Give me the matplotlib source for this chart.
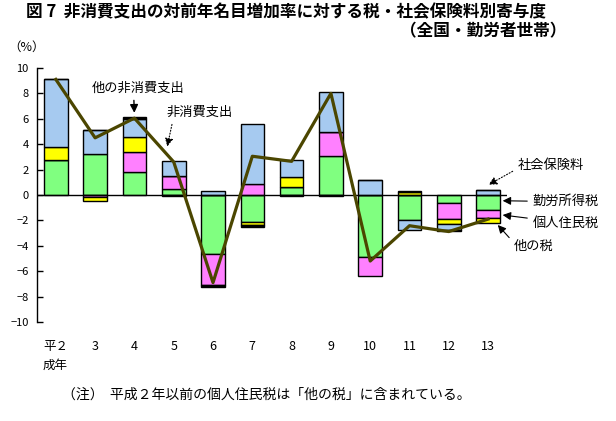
import numpy as np
import matplotlib
matplotlib.use("Agg")
import matplotlib.pyplot as plt

plt.rcParams['font.family'] = ['Noto Sans CJK JP', 'DejaVu Sans']

# --- data ---
years = ['平２', '3', '4', '5', '6', '7', '8', '9', '10', '11', '12', '13']

kinro = [2.76, 3.23, 1.81, 0.45, -4.65, -2.15, 0.65, 3.10, -4.86, -1.97, -0.65, -1.18]      # 勤労所得税
jumin = [0.0, -0.12, 1.58, 1.07, -2.46, 0.84, 0.0, 1.88, -1.49, 0.0, -1.26, -0.66]          # 個人住民税
other_tax = [0.99, -0.35, 1.18, 0.0, 0.0, -0.22, 0.74, 0.0, 0.0, 0.25, -0.39, -0.39]        # 他の税
shakai = [5.36, 1.89, 1.43, 1.16, 0.30, 4.73, 1.37, 3.10, 1.18, -0.80, -0.45, 0.37]        # 社会保険料
other_nc = [0.0, 0.0, 0.12, -0.10, -0.15, -0.12, -0.08, -0.08, 0.0, 0.10, -0.10, 0.0]       # 他の非消費支出
total = [9.1, 4.5, 6.05, 2.6, -6.9, 3.05, 2.65, 8.0, -5.2, -2.42, -2.88, -1.9]              # 非消費支出

components = [
    (kinro, '#80FF80'),
    (jumin, '#FF80FF'),
    (other_tax, '#FFFF00'),
    (shakai, '#A6CAF0'),
    (other_nc, '#000000'),
]

fig = plt.figure(figsize=(6.16, 4.21), dpi=100)
ax = fig.add_axes([0.060, 0.2352, 0.763, 0.6033])

x = np.arange(len(years))
pos_base = np.zeros(len(years))
neg_base = np.zeros(len(years))
for vals, col in components:
    v = np.array(vals)
    bottom = np.where(v >= 0, pos_base, neg_base)
    ax.bar(x, v, width=0.6, bottom=bottom, color=col, edgecolor='black', linewidth=1.0, zorder=2)
    pos_base = pos_base + np.where(v > 0, v, 0)
    neg_base = neg_base + np.where(v < 0, v, 0)

ax.plot(x, total, color='#4B4600', lw=2.3, zorder=4)
ax.axhline(0, color='black', lw=1.0, zorder=3)

ax.set_xlim(-0.48, 11.48)
ax.set_ylim(-10, 10)
ax.set_yticks(np.arange(-10, 11, 2))
ax.tick_params(axis='y', direction='in', length=4, width=1, labelsize=8, pad=6)
ax.set_xticks([])
for s in ['top', 'right', 'bottom']:
    ax.spines[s].set_visible(False)
ax.spines['left'].set_linewidth(1.0)

# x labels
for i, lab in enumerate(years):
    ax.text(i, -11.9, lab, ha='center', va='center', fontsize=9)
ax.text(-0.34, -13.4, '成年', ha='left', va='center', fontsize=9)

# annotations
ann = dict(fontsize=9.5)
ax.annotate('他の非消費支出', xy=(2.0, 6.25), xytext=(2.1, 8.4), ha='center', va='center',
            arrowprops=dict(arrowstyle='-|>', color='black', lw=1, mutation_scale=12,
                            relpos=(0.45, 0.0)), **ann)
ax.annotate('非消費支出', xy=(2.82, 3.6), xytext=(3.66, 6.5), ha='center', va='center',
            arrowprops=dict(arrowstyle='-|>', color='black', lw=0.8, ls=':', mutation_scale=12,
                            relpos=(0.1, 0.0), shrinkA=2), **ann)
ax.annotate('社会保険料', xy=(10.95, 0.7), xytext=(12.6, 2.3), ha='center', va='center',
            annotation_clip=False,
            arrowprops=dict(arrowstyle='-|>', color='black', lw=0.8, ls=':', mutation_scale=12,
                            relpos=(0.0, 0.3)), **ann)
ax.annotate('勤労所得税', xy=(11.3, -0.45), xytext=(12.98, -0.53), ha='center', va='center',
            annotation_clip=False,
            arrowprops=dict(arrowstyle='-|>', color='black', lw=0.8, mutation_scale=12), **ann)
ax.annotate('個人住民税', xy=(11.3, -1.55), xytext=(12.98, -2.2), ha='center', va='center',
            annotation_clip=False,
            arrowprops=dict(arrowstyle='-|>', color='black', lw=0.8, mutation_scale=12), **ann)
ax.annotate('他の税', xy=(11.2, -2.2), xytext=(12.16, -4.07), ha='center', va='center',
            annotation_clip=False,
            arrowprops=dict(arrowstyle='-|>', color='black', lw=0.8, mutation_scale=12,
                            relpos=(0.0, 0.8)), **ann)

# titles and notes
fig.text(0.042, 0.972, '図 7  非消費支出の対前年名目増加率に対する税・社会保険料別寄与度',
         ha='left', va='center', fontsize=12, fontweight='bold')
fig.text(0.92, 0.926, '（全国・勤労者世帯）', ha='right', va='center', fontsize=12, fontweight='bold')
fig.text(0.013, 0.887, '（%）', ha='left', va='center', fontsize=9)
fig.text(0.10, 0.062, '（注）  平成２年以前の個人住民税は「他の税」に含まれている。',
         ha='left', va='center', fontsize=10)

fig.savefig('out.png', dpi=100)
